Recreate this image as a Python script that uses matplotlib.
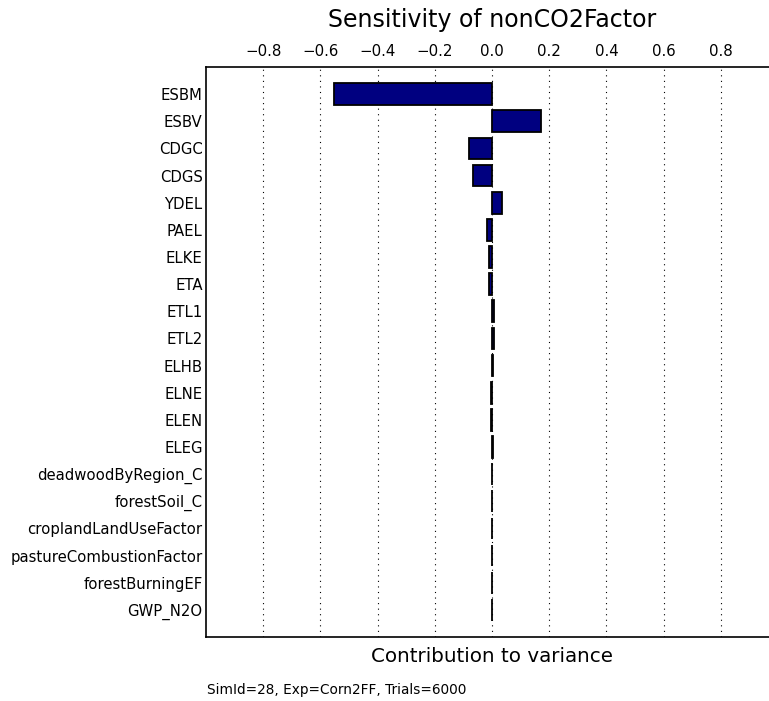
import matplotlib
matplotlib.use('Agg')
import matplotlib.pyplot as plt


names = ['ESBM', 'ESBV', 'CDGC', 'CDGS', 'YDEL', 'PAEL', 'ELKE', 'ETA',
         'ETL1', 'ETL2', 'ELHB', 'ELNE', 'ELEN', 'ELEG',
         'deadwoodByRegion_C', 'forestSoil_C', 'croplandLandUseFactor',
         'pastureCombustionFactor', 'forestBurningEF', 'GWP_N2O']
values = [-0.554, 0.172, -0.082, -0.065, 0.034, -0.018, -0.011, -0.010,
          0.008, 0.006, 0.005, -0.003, -0.002, 0.002,
          0.001, 0.001, -0.001, 0.001, 0.001, 0.001]
xticks = [-0.8, -0.6, -0.4, -0.2, 0.0, 0.2, 0.4, 0.6, 0.8]


def main():
    fig = plt.figure(figsize=(7.69, 7.01), dpi=100)
    # right edge sits just past the figure, like the original crop
    ax = fig.add_axes([206 / 769, 1 - 637 / 701, 572 / 769, 570 / 701])

    pos = list(range(len(names)))
    ax.barh(pos, values, height=0.8, color='#000080', edgecolor='black',
            linewidth=1.3, align='center')

    ax.set_xlim(-1.0, 1.0)
    ax.set_ylim(20, -1)
    ax.set_yticks(pos)
    ax.set_yticklabels(names, fontsize=10.7)
    ax.tick_params(axis='y', length=0, pad=2.5)

    ax.xaxis.tick_top()
    ax.set_xticks(xticks)
    ax.set_xticklabels(['%.1f' % t if t >= 0 else '\u2212%.1f' % -t for t in xticks],
                       fontsize=10.8)
    ax.tick_params(axis='x', length=0, pad=6)
    ax.xaxis.grid(True, linestyle=(0, (1, 4)), color='black', linewidth=0.8)
    ax.set_axisbelow(True)

    for s in ax.spines.values():
        s.set_linewidth(1.2)

    fig.text(492 / 769, 1 - 20 / 701, 'Sensitivity of nonCO2Factor',
             fontsize=17, ha='center', va='center')
    fig.text(492 / 769, 1 - 656 / 701, 'Contribution to variance',
             fontsize=14.3, ha='center', va='center')
    fig.text(207 / 769, 1 - 690 / 701, 'SimId=28, Exp=Corn2FF, Trials=6000',
             fontsize=9.8, ha='left', va='center')

    fig.savefig('out.png', dpi=100)


if __name__ == '__main__':
    main()
